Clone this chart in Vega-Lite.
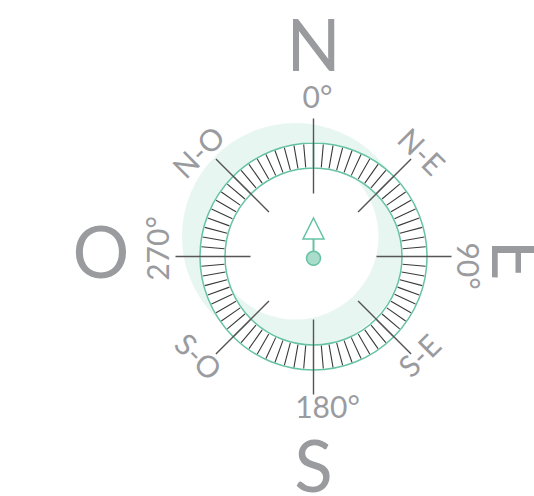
{
  "$schema": "https://vega.github.io/schema/vega-lite/v6.json",
  "width": 534,
  "height": 496,
  "autosize": {"type": "none"},
  "padding": 0,
  "background": "white",
  "config": {"view": {"stroke": null}},
  "datasets": {
    "rings": [
      {"kind": "shadow", "cx": -18, "cy": 20, "r": 113.5, "r2": 83, "a0": 0, "a1": 360},
      {"kind": "band", "cx": 0, "cy": 0, "r": 113.5, "r2": 88.5, "a0": 0, "a1": 360}
    ],
    "ticks": [
      {"deg": 0}, {"deg": 5}, {"deg": 10}, {"deg": 15}, {"deg": 20}, {"deg": 25}, {"deg": 30}, {"deg": 35},
      {"deg": 40}, {"deg": 45}, {"deg": 50}, {"deg": 55}, {"deg": 60}, {"deg": 65}, {"deg": 70}, {"deg": 75},
      {"deg": 80}, {"deg": 85}, {"deg": 90}, {"deg": 95}, {"deg": 100}, {"deg": 105}, {"deg": 110}, {"deg": 115},
      {"deg": 120}, {"deg": 125}, {"deg": 130}, {"deg": 135}, {"deg": 140}, {"deg": 145}, {"deg": 150}, {"deg": 155},
      {"deg": 160}, {"deg": 165}, {"deg": 170}, {"deg": 175}, {"deg": 180}, {"deg": 185}, {"deg": 190}, {"deg": 195},
      {"deg": 200}, {"deg": 205}, {"deg": 210}, {"deg": 215}, {"deg": 220}, {"deg": 225}, {"deg": 230}, {"deg": 235},
      {"deg": 240}, {"deg": 245}, {"deg": 250}, {"deg": 255}, {"deg": 260}, {"deg": 265}, {"deg": 270}, {"deg": 275},
      {"deg": 280}, {"deg": 285}, {"deg": 290}, {"deg": 295}, {"deg": 300}, {"deg": 305}, {"deg": 310}, {"deg": 315},
      {"deg": 320}, {"deg": 325}, {"deg": 330}, {"deg": 335}, {"deg": 340}, {"deg": 345}, {"deg": 350}, {"deg": 355}
    ],
    "cardinal": [
      {"deg": 0}, {"deg": 45}, {"deg": 90}, {"deg": 135}, {"deg": 180}, {"deg": 225}, {"deg": 270}, {"deg": 315}
    ],
    "needle": [
      {"part": "stem", "x": 0, "y": 17.5, "y2": 5.5}
    ],
    "head": [{"x": 0, "y": 28}],
    "hub": [{"x": 0, "y": -1.8}],
    "labels": [
      {"label": "N", "group": "big0", "x": 0, "y": 207},
      {"label": "S", "group": "big0", "x": 0, "y": -214},
      {"label": "O", "group": "big0", "x": -212.5, "y": 0},
      {"label": "E", "group": "big90", "x": 199, "y": -3.5},
      {"label": "0°", "group": "deg0", "x": 4, "y": 157.5},
      {"label": "180°", "group": "deg0", "x": 14, "y": -152},
      {"label": "90°", "group": "deg90", "x": 152.5, "y": -9.5},
      {"label": "270°", "group": "deg270", "x": -154, "y": 8},
      {"label": "N-O", "group": "diagm45", "x": -113.5, "y": 103},
      {"label": "S-E", "group": "diagm45", "x": 107.5, "y": -100.5},
      {"label": "N-E", "group": "diag45", "x": 106.5, "y": 103.5},
      {"label": "S-O", "group": "diag45", "x": -116.5, "y": -101.5}
    ]
  },
  "layer": [
    {
      "data": {"name": "rings"},
      "transform": [{"filter": "datum.kind === 'shadow'"}],
      "mark": {"type": "arc", "fill": "#66c2a5", "fillOpacity": 0.15, "strokeWidth": 0},
      "encoding": {
        "x": {"field": "cx", "type": "quantitative", "scale": {"domain": [-313.5, 220.5]}, "axis": null},
        "y": {"field": "cy", "type": "quantitative", "scale": {"domain": [-239.5, 256.5]}, "axis": null},
        "theta": {"field": "a0", "type": "quantitative", "scale": {"domain": [0, 360], "range": [0, 6.283185307]}, "stack": null},
        "theta2": {"field": "a1"},
        "radius": {"field": "r", "type": "quantitative", "scale": null},
        "radius2": {"field": "r2"}
      }
    },
    {
      "data": {"name": "rings"},
      "transform": [{"filter": "datum.kind === 'band'"}],
      "mark": {"type": "arc", "fill": "white", "stroke": "#66c2a5", "strokeWidth": 1.5},
      "encoding": {
        "x": {"field": "cx", "type": "quantitative", "scale": {"domain": [-313.5, 220.5]}, "axis": null},
        "y": {"field": "cy", "type": "quantitative", "scale": {"domain": [-239.5, 256.5]}, "axis": null},
        "theta": {"field": "a0", "type": "quantitative", "scale": {"domain": [0, 360], "range": [0, 6.283185307]}, "stack": null},
        "theta2": {"field": "a1"},
        "radius": {"field": "r", "type": "quantitative", "scale": null},
        "radius2": {"field": "r2"}
      }
    },
    {
      "data": {"name": "ticks"},
      "mark": {"type": "arc", "radius": 112.5, "radius2": 89.5, "fill": null, "stroke": "#3a3a3a", "strokeWidth": 1.1},
      "encoding": {
        "x": {"datum": 0, "type": "quantitative", "scale": {"domain": [-313.5, 220.5]}, "axis": null},
        "y": {"datum": 0, "type": "quantitative", "scale": {"domain": [-239.5, 256.5]}, "axis": null},
        "theta": {"field": "deg", "type": "quantitative", "scale": {"domain": [0, 360], "range": [0, 6.283185307]}, "stack": null},
        "theta2": {"field": "deg"}
      }
    },
    {
      "data": {"name": "cardinal"},
      "mark": {"type": "arc", "radius": 138, "radius2": 63, "fill": null, "stroke": "#555555", "strokeWidth": 1.4},
      "encoding": {
        "x": {"datum": 0, "type": "quantitative", "scale": {"domain": [-313.5, 220.5]}, "axis": null},
        "y": {"datum": 0, "type": "quantitative", "scale": {"domain": [-239.5, 256.5]}, "axis": null},
        "theta": {"field": "deg", "type": "quantitative", "scale": {"domain": [0, 360], "range": [0, 6.283185307]}, "stack": null},
        "theta2": {"field": "deg"}
      }
    },
    {
      "data": {"name": "needle"},
      "mark": {"type": "rule", "stroke": "#66c2a5", "strokeWidth": 2},
      "encoding": {
        "x": {"field": "x", "type": "quantitative", "scale": {"domain": [-313.5, 220.5]}, "axis": null},
        "y": {"field": "y", "type": "quantitative", "scale": {"domain": [-239.5, 256.5]}, "axis": null},
        "y2": {"field": "y2"}
      }
    },
    {
      "data": {"name": "head"},
      "mark": {"type": "point", "shape": "M0,-1L1,1L-1,1Z", "size": 441, "filled": true, "fill": "white", "stroke": "#66c2a5", "strokeWidth": 1.5, "opacity": 1},
      "encoding": {
        "x": {"field": "x", "type": "quantitative", "scale": {"domain": [-313.5, 220.5]}, "axis": null},
        "y": {"field": "y", "type": "quantitative", "scale": {"domain": [-239.5, 256.5]}, "axis": null}
      }
    },
    {
      "data": {"name": "hub"},
      "mark": {"type": "point", "shape": "circle", "size": 196, "filled": true, "fill": "#a9dccb", "stroke": "#66c2a5", "strokeWidth": 1.5, "opacity": 1},
      "encoding": {
        "x": {"field": "x", "type": "quantitative", "scale": {"domain": [-313.5, 220.5]}, "axis": null},
        "y": {"field": "y", "type": "quantitative", "scale": {"domain": [-239.5, 256.5]}, "axis": null}
      }
    },
    {
      "data": {"name": "labels"},
      "transform": [{"filter": "datum.group === 'big0'"}],
      "mark": {"type": "text", "font": "Lato", "fontWeight": 400, "fontSize": 71, "fill": "#9a9b9f", "align": "center", "baseline": "middle"},
      "encoding": {
        "x": {"field": "x", "type": "quantitative", "scale": {"domain": [-313.5, 220.5]}, "axis": null},
        "y": {"field": "y", "type": "quantitative", "scale": {"domain": [-239.5, 256.5]}, "axis": null},
        "text": {"field": "label"}
      }
    },
    {
      "data": {"name": "labels"},
      "transform": [{"filter": "datum.group === 'big90'"}],
      "mark": {"type": "text", "font": "Lato", "fontWeight": 400, "fontSize": 71, "fill": "#9a9b9f", "align": "center", "baseline": "middle", "angle": 90},
      "encoding": {
        "x": {"field": "x", "type": "quantitative", "scale": {"domain": [-313.5, 220.5]}, "axis": null},
        "y": {"field": "y", "type": "quantitative", "scale": {"domain": [-239.5, 256.5]}, "axis": null},
        "text": {"field": "label"}
      }
    },
    {
      "data": {"name": "labels"},
      "transform": [{"filter": "datum.group === 'deg0'"}],
      "mark": {"type": "text", "font": "Lato", "fontWeight": 400, "fontSize": 30, "fill": "#9a9b9f", "align": "center", "baseline": "middle"},
      "encoding": {
        "x": {"field": "x", "type": "quantitative", "scale": {"domain": [-313.5, 220.5]}, "axis": null},
        "y": {"field": "y", "type": "quantitative", "scale": {"domain": [-239.5, 256.5]}, "axis": null},
        "text": {"field": "label"}
      }
    },
    {
      "data": {"name": "labels"},
      "transform": [{"filter": "datum.group === 'deg90'"}],
      "mark": {"type": "text", "font": "Lato", "fontWeight": 400, "fontSize": 30, "fill": "#9a9b9f", "align": "center", "baseline": "middle", "angle": 90},
      "encoding": {
        "x": {"field": "x", "type": "quantitative", "scale": {"domain": [-313.5, 220.5]}, "axis": null},
        "y": {"field": "y", "type": "quantitative", "scale": {"domain": [-239.5, 256.5]}, "axis": null},
        "text": {"field": "label"}
      }
    },
    {
      "data": {"name": "labels"},
      "transform": [{"filter": "datum.group === 'deg270'"}],
      "mark": {"type": "text", "font": "Lato", "fontWeight": 400, "fontSize": 30, "fill": "#9a9b9f", "align": "center", "baseline": "middle", "angle": 270},
      "encoding": {
        "x": {"field": "x", "type": "quantitative", "scale": {"domain": [-313.5, 220.5]}, "axis": null},
        "y": {"field": "y", "type": "quantitative", "scale": {"domain": [-239.5, 256.5]}, "axis": null},
        "text": {"field": "label"}
      }
    },
    {
      "data": {"name": "labels"},
      "transform": [{"filter": "datum.group === 'diagm45'"}],
      "mark": {"type": "text", "font": "Lato", "fontWeight": 400, "fontSize": 30, "fill": "#9a9b9f", "align": "center", "baseline": "middle", "angle": 315},
      "encoding": {
        "x": {"field": "x", "type": "quantitative", "scale": {"domain": [-313.5, 220.5]}, "axis": null},
        "y": {"field": "y", "type": "quantitative", "scale": {"domain": [-239.5, 256.5]}, "axis": null},
        "text": {"field": "label"}
      }
    },
    {
      "data": {"name": "labels"},
      "transform": [{"filter": "datum.group === 'diag45'"}],
      "mark": {"type": "text", "font": "Lato", "fontWeight": 400, "fontSize": 30, "fill": "#9a9b9f", "align": "center", "baseline": "middle", "angle": 45},
      "encoding": {
        "x": {"field": "x", "type": "quantitative", "scale": {"domain": [-313.5, 220.5]}, "axis": null},
        "y": {"field": "y", "type": "quantitative", "scale": {"domain": [-239.5, 256.5]}, "axis": null},
        "text": {"field": "label"}
      }
    }
  ]
}
